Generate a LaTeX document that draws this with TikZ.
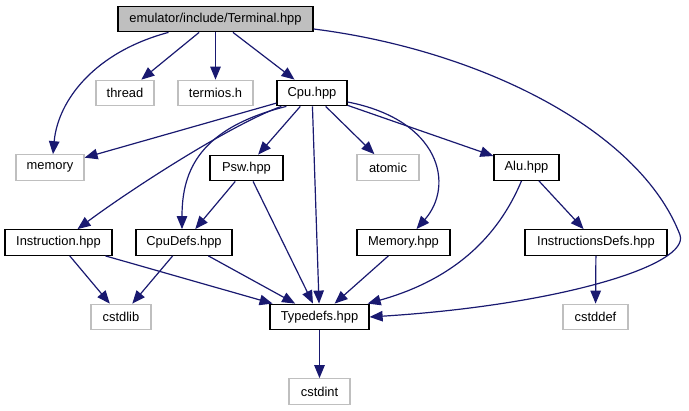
\documentclass[tikz,border=0pt]{standalone}
\usepackage{fontspec}
\setmainfont{Liberation Sans}
\usetikzlibrary{arrows.meta,calc}
\definecolor{edgeblue}{HTML}{191970}
\definecolor{boxgray}{HTML}{BFBFBF}
\begin{document}
\begin{tikzpicture}[x=1pt,y=-1pt,
  every node/.style={font=\fontsize{12.9}{15}\selectfont, inner sep=0pt, minimum height=25.5pt, anchor=center},
  filebox/.style={draw=black, line width=1.3pt},
  sysbox/.style={draw=boxgray, line width=1.2pt},
  rootbox/.style={draw=black, fill=boxgray, line width=1.3pt},
  dep/.style={draw=edgeblue, line width=1.2pt, -{Triangle[length=13pt,width=10.5pt]}}]
\useasboundingbox (0,0) rectangle (689,411);
\node[rootbox, minimum width=195pt] (Terminal) at (215.5,19) {emulator/include/Terminal.hpp};
\node[sysbox, minimum width=58pt] (thread) at (125,93) {thread};
\node[sysbox, minimum width=75pt] (termios) at (215.5,93) {termios.h};
\node[filebox, minimum width=70pt] (Cpu) at (312,93) {Cpu.hpp};
\node[sysbox, minimum width=68pt] (memory) at (50,167.5) {memory};
\node[filebox, minimum width=73pt] (Psw) at (246.5,168) {Psw.hpp};
\node[sysbox, minimum width=62pt] (atomic) at (388,167.5) {atomic};
\node[filebox, minimum width=65pt] (Alu) at (526.5,167.5) {Alu.hpp};
\node[filebox, minimum width=107pt] (Instruction) at (58.5,242.5) {Instruction.hpp};
\node[filebox, minimum width=96pt] (CpuDefs) at (184,242.5) {CpuDefs.hpp};
\node[filebox, minimum width=93pt] (Memory) at (403.5,242.5) {Memory.hpp};
\node[filebox, minimum width=142pt] (InstructionsDefs) at (596,242.5) {InstructionsDefs.hpp};
\node[sysbox, minimum width=60pt] (cstdlib) at (121,317) {cstdlib};
\node[filebox, minimum width=99pt] (Typedefs) at (319.5,317) {Typedefs.hpp};
\node[sysbox, minimum width=65pt] (cstddef) at (595.5,317) {cstddef};
\node[sysbox, minimum width=61pt] (cstdint) at (319.5,391.5) {cstdint};

% Terminal edges
\draw[dep] ($(Terminal.south)+(-47,0)$) .. controls (95,52) and (58,100) .. ($(memory.north)+(3,0)$);
\draw[dep] (Terminal) -- (thread);
\draw[dep] (Terminal) -- (termios);
\draw[dep] (Terminal) -- (Cpu);
\draw[dep] ($(Terminal.east)+(0,10)$) .. controls (480,50) and (640,130) .. (680,235)
   .. controls (690,265) and (560,305) .. (Typedefs.east);
% Cpu edges
\draw[dep] (Cpu) -- (memory);
\draw[dep] ($(Cpu.south west)+(5,0)$) .. controls (230,125) and (130,190) .. ($(Instruction.north)+(19,0)$);
\draw[dep] ($(Cpu.south west)+(10,0)$) .. controls (200,128) and (182,170) .. ($(CpuDefs.north)+(-2,0)$);
\draw[dep] (Cpu) -- (Psw);
\draw[dep] (Cpu) -- (Typedefs);
\draw[dep] (Cpu) -- (atomic);
\draw[dep] ($(Cpu.east)+(0,9)$) .. controls (440,120) and (455,185) .. ($(Memory.north)+(13,0)$);
\draw[dep] (Cpu) -- (Alu);
% Psw
\draw[dep] (Psw) -- (CpuDefs);
\draw[dep] (Psw) -- (Typedefs);
% Alu
\draw[dep] (Alu) -- (InstructionsDefs);
\draw[dep] ($(Alu.south)+(-5,0)$) .. controls (505,220) and (470,275) .. ($(Typedefs.north east)+(-2,0)$);
% lower
\draw[dep] (Instruction) -- (cstdlib);
\draw[dep] (Instruction) -- (Typedefs);
\draw[dep] (CpuDefs) -- (cstdlib);
\draw[dep] (CpuDefs) -- (Typedefs);
\draw[dep] (Memory) -- (Typedefs);
\draw[dep] (InstructionsDefs) -- (cstddef);
\draw[dep] (Typedefs) -- (cstdint);
\end{tikzpicture}
\end{document}
